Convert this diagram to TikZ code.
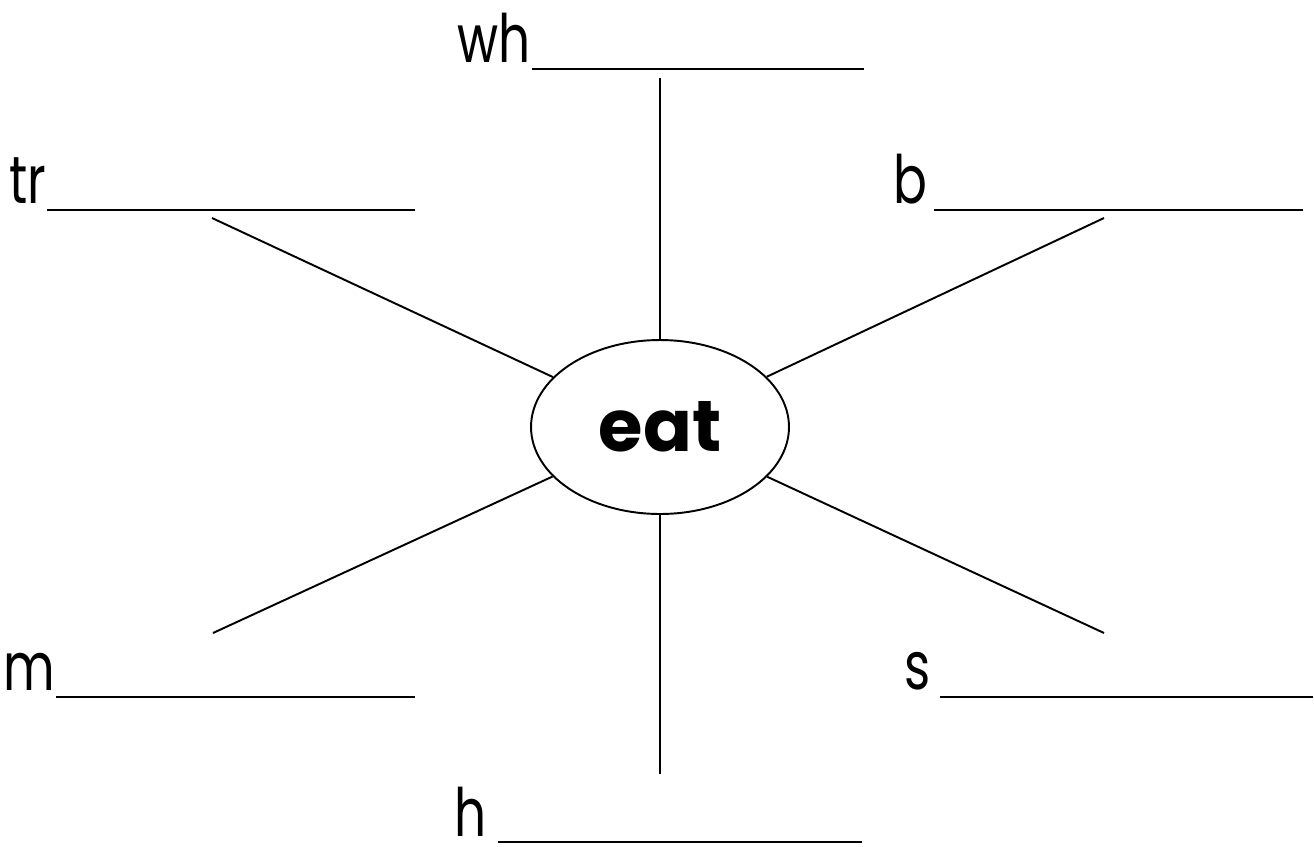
\documentclass[tikz,border=0pt]{standalone}
\usepackage{fontspec}
\setmainfont{Poppins}
\newfontfamily\labelfont[FakeStretch=0.75]{Poppins}
\usetikzlibrary{shapes.geometric}
\begin{document}
\begin{tikzpicture}[x=0.02cm,y=-0.02cm,
    word/.style={font=\labelfont\fontsize{38}{38}\selectfont, inner sep=0pt, text depth=0pt, anchor=base east},
    blank/.style={line width=1.5pt},
    spoke/.style={line width=1.1pt}]
    \useasboundingbox (0,0) rectangle (1314,846);
    % centre word
    \node[draw, ellipse, line width=1.1pt, minimum width=5.16cm, minimum height=3.48cm,
      inner sep=0pt, font=\fontsize{41}{41}\selectfont\bfseries] (eat) at (660,427) {eat};
    % spoke ends
    \coordinate (whend) at (660,78);
    \coordinate (trend) at (212,218);
    \coordinate (bend) at (1104,218);
    \coordinate (mend) at (213,633);
    \coordinate (send) at (1104,633);
    \coordinate (hend) at (660,774);
    \foreach \e in {whend,trend,bend,mend,send,hend}
      \draw[spoke] (eat) -- (\e);
    % word starts and blanks
    \node[word] (wh) at (531,62) {wh};
    \coordinate (wha) at (532,69);  \coordinate (whb) at (864,69);
    \node[word] (tr) at (47,203) {tr};
    \coordinate (tra) at (47,210);  \coordinate (trb) at (415,210);
    \node[word] (b) at (928,203) {b};
    \coordinate (ba) at (934,210);  \coordinate (bb) at (1303,210);
    \node[word] (m) at (55,690) {m};
    \coordinate (ma) at (56,697);   \coordinate (mb) at (415,697);
    \node[word] (s) at (931,689) {s};
    \coordinate (sa) at (940,697);  \coordinate (sb) at (1313,697);
    \node[word] (h) at (487,836) {h};
    \coordinate (ha) at (498,842);  \coordinate (hb) at (862,842);
    \foreach \w in {wh,tr,b,m,s,h}
      \draw[blank] (\w a) -- (\w b);
\end{tikzpicture}
\end{document}
